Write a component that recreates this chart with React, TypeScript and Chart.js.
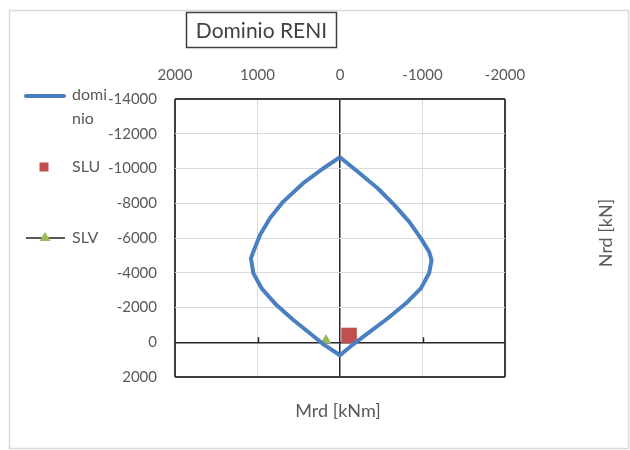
import React, { useEffect, useRef } from "react";
import { Chart, registerables } from "chart.js";

Chart.register(...registerables);

// ---- data ----
const dominioM = [0, 205, 450, 690, 850, 970, 1050, 1080, 1050, 950, 770, 565, 365, 200, 0, -160, -340, -580, -800, -980, -1080, -1110, -1080, -980, -840, -660, -460, -220, 0];
const dominioN = [-10650, -10000, -9140, -8080, -7130, -6170, -5210, -4830, -3970, -3100, -2140, -1280, -520, 120, 750, 120, -520, -1380, -2240, -3100, -3970, -4730, -5210, -5980, -6930, -7890, -8850, -9800, -10650];
const sluM = [-110];
const sluN = [-390];
const slvM = [170];
const slvN = [-130];
const seriesNames = ["dominio", "SLU", "SLV"];
const xTicks = [2000, 1000, 0, -1000, -2000];
const yTicks = [-14000, -12000, -10000, -8000, -6000, -4000, -2000, 0, 2000];
const titleText = "Dominio RENI";
const xTitle = "Mrd [kNm]";
const yTitle = "Nrd [kN]";

// ---- style ----
const FONT = "Lato, 'Open Sans', sans-serif";
const TXT = "#595959";
const DARK = "#404040";
const BLUE = "#4A7FC1";
const RED = "#C0504D";
const GREEN = "#9BBB59";
const GRID = "#D9D9D9";

const gridColor = (edges: number[]) => (c: any) => {
  const v = c.tick ? c.tick.value : null;
  if (v === 0) return "#262626";
  if (edges.includes(v)) return DARK;
  return GRID;
};
const gridWidth = (edges: number[]) => (c: any) => {
  const v = c.tick ? c.tick.value : null;
  if (v === 0) return 1.5;
  if (edges.includes(v)) return 2;
  return 1;
};

const decor = {
  id: "decor",
  beforeDatasetsDraw(chart: any) {
    const ctx = chart.ctx;
    const xs = chart.scales.x;
    const ys = chart.scales.y;
    const y0 = ys.getPixelForValue(0);
    ctx.save();
    ctx.strokeStyle = "#262626";
    ctx.lineWidth = 1.5;
    xTicks.forEach((v) => {
      if (v === 0 || v === xTicks[0] || v === xTicks[xTicks.length - 1]) return;
      const px = Math.round(xs.getPixelForValue(v)) + 0.5;
      ctx.beginPath();
      ctx.moveTo(px, y0);
      ctx.lineTo(px, y0 - 5);
      ctx.stroke();
    });
    ctx.restore();
  },
  afterDraw(chart: any) {
    const ctx = chart.ctx;
    ctx.save();
    // outer frame
    ctx.strokeStyle = GRID;
    ctx.lineWidth = 1.5;
    ctx.strokeRect(9.5, 10.5, 619, 438);
    // title box
    ctx.strokeStyle = DARK;
    ctx.lineWidth = 1.5;
    ctx.strokeRect(186.5, 12.5, 150, 35);
    ctx.fillStyle = DARK;
    ctx.font = `21px ${FONT}`;
    ctx.textAlign = "center";
    ctx.textBaseline = "middle";
    ctx.fillText(titleText, 261.5, 31);
    // axis titles
    ctx.fillStyle = TXT;
    ctx.font = `18px ${FONT}`;
    ctx.fillText(xTitle, 338, 411);
    ctx.save();
    ctx.translate(606, 233);
    ctx.rotate(-Math.PI / 2);
    ctx.fillText(yTitle, 0, 0);
    ctx.restore();
    // legend
    const rows = [96, 167, 238];
    ctx.textAlign = "left";
    ctx.font = `16px ${FONT}`;
    chart.data.datasets.forEach((ds: any, i: number) => {
      const yy = rows[i];
      if (i === 0) {
        ctx.strokeStyle = BLUE;
        ctx.lineWidth = 4;
        ctx.lineCap = "round";
        ctx.beginPath();
        ctx.moveTo(26, yy);
        ctx.lineTo(64, yy);
        ctx.stroke();
        ctx.fillStyle = TXT;
        ctx.fillText(ds.label.slice(0, 4), 72, yy - 1);
        ctx.fillText(ds.label.slice(4), 72, yy + 23);
      } else if (i === 1) {
        ctx.fillStyle = RED;
        ctx.fillRect(39.5, yy - 4.5, 9, 9);
        ctx.fillStyle = TXT;
        ctx.fillText(ds.label, 72, yy);
      } else {
        ctx.strokeStyle = TXT;
        ctx.lineWidth = 2;
        ctx.lineCap = "butt";
        ctx.beginPath();
        ctx.moveTo(26, yy);
        ctx.lineTo(65, yy);
        ctx.stroke();
        ctx.fillStyle = GREEN;
        ctx.beginPath();
        ctx.moveTo(45, yy - 6);
        ctx.lineTo(50.5, yy + 3);
        ctx.lineTo(39.5, yy + 3);
        ctx.closePath();
        ctx.fill();
        ctx.fillStyle = TXT;
        ctx.fillText(ds.label, 72, yy);
      }
    });
    ctx.restore();
  },
};

export default function App() {
  const ref = useRef<HTMLCanvasElement>(null);
  useEffect(() => {
    document.body.style.margin = "0";
    document.body.style.overflow = "hidden";
    const canvas = ref.current!;
    const chart = new Chart(canvas, {
      type: "scatter",
      data: {
        datasets: [
          {
            label: seriesNames[0],
            data: dominioM.map((m, i) => ({ x: m, y: dominioN[i] })),
            showLine: true,
            borderColor: BLUE,
            backgroundColor: BLUE,
            borderWidth: 4,
            pointRadius: 0,
            tension: 0,
            fill: false,
            borderJoinStyle: "round",
          } as any,
          {
            label: seriesNames[1],
            data: sluM.map((m, i) => ({ x: m, y: sluN[i] })),
            pointStyle: "rect",
            pointRadius: 11,
            backgroundColor: RED,
            borderColor: RED,
            borderWidth: 0,
            showLine: false,
          } as any,
          {
            label: seriesNames[2],
            data: slvM.map((m, i) => ({ x: m, y: slvN[i] })),
            pointStyle: "triangle",
            pointRadius: 6,
            backgroundColor: GREEN,
            borderColor: GREEN,
            borderWidth: 0,
            showLine: false,
          } as any,
        ],
      },
      options: {
        responsive: false,
        animation: false,
        devicePixelRatio: 1,
        layout: { padding: { left: 95, top: 54, right: 125, bottom: 73 } },
        plugins: {
          legend: { display: false },
          tooltip: { enabled: false },
          title: { display: false },
        },
        scales: {
          x: {
            type: "linear",
            position: "top",
            reverse: true,
            min: -2000,
            max: 2000,
            afterBuildTicks: (s: any) => {
              s.ticks = xTicks.map((v) => ({ value: v }));
            },
            afterFit: (s: any) => {
              s.height = 45;
            },
            ticks: {
              padding: 15,
              color: TXT,
              font: { family: FONT, size: 15 },
              maxRotation: 0,
              autoSkip: false,
              callback: (v: any) => String(v),
            },
            grid: {
              drawTicks: false,
              color: gridColor([2000, -2000]),
              lineWidth: gridWidth([2000, -2000]),
            },
            border: { display: false },
          },
          y: {
            type: "linear",
            position: "left",
            reverse: true,
            min: -14000,
            max: 2000,
            afterBuildTicks: (s: any) => {
              s.ticks = yTicks.map((v) => ({ value: v }));
            },
            afterFit: (s: any) => {
              s.width = 80;
            },
            ticks: {
              padding: 18,
              color: TXT,
              font: { family: FONT, size: 15 },
              autoSkip: false,
              callback: (v: any) => String(v),
            },
            grid: {
              drawTicks: false,
              color: gridColor([-14000, 2000]),
              lineWidth: gridWidth([-14000, 2000]),
            },
            border: { display: false },
          },
        },
      },
      plugins: [decor],
    });
    return () => chart.destroy();
  }, []);
  return (
    <div style={{ width: 630, height: 450 }}>
      <canvas ref={ref} width={630} height={450} style={{ display: "block" }} />
    </div>
  );
}
